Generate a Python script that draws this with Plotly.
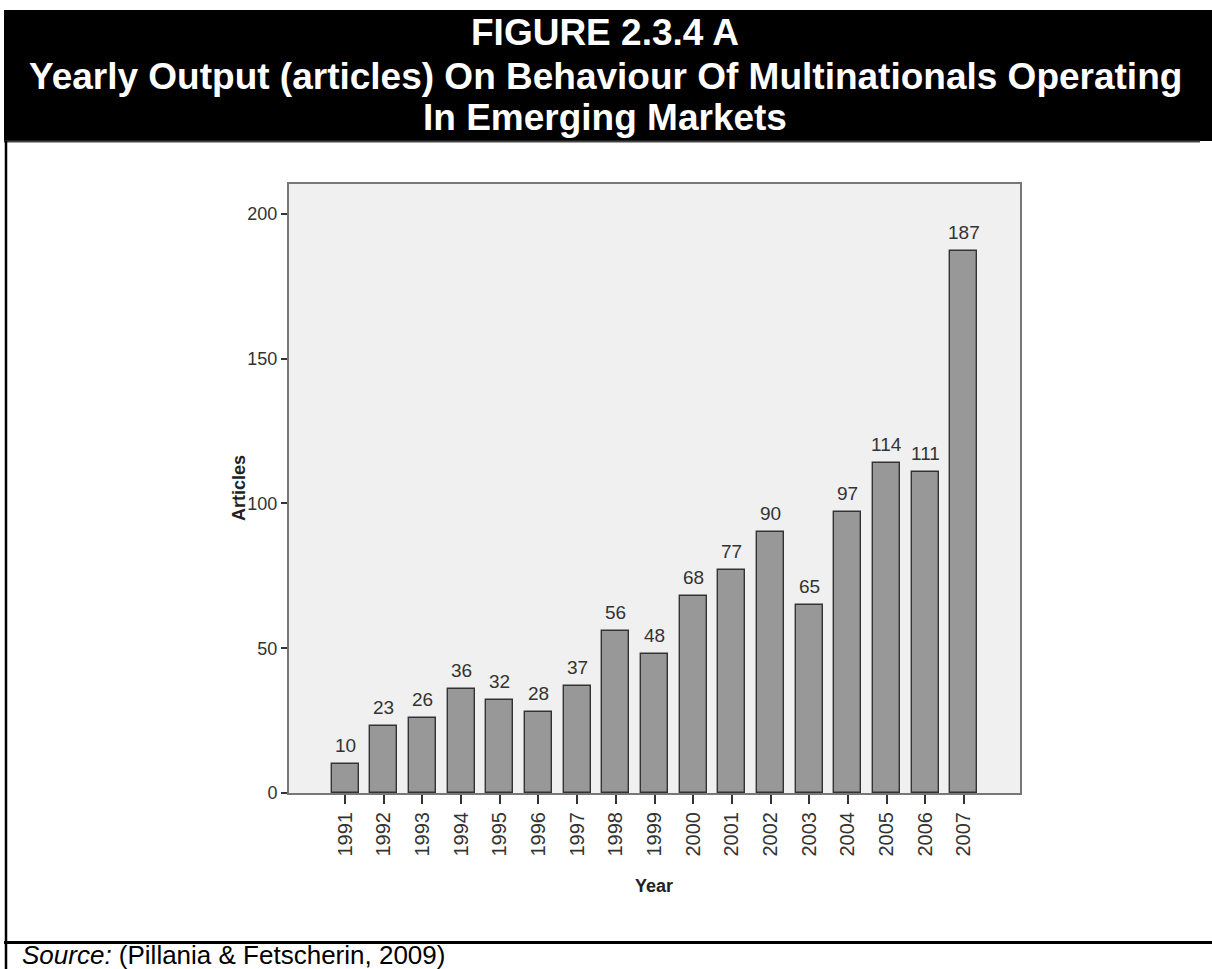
import plotly.graph_objects as go

# Yearly article counts
years = ["1991", "1992", "1993", "1994", "1995", "1996", "1997", "1998", "1999",
         "2000", "2001", "2002", "2003", "2004", "2005", "2006", "2007"]
articles = [10, 23, 26, 36, 32, 28, 37, 56, 48, 68, 77, 90, 65, 97, 114, 111, 187]
y_ticks = [0, 50, 100, 150, 200]

title_lines = [
    "FIGURE 2.3.4 A",
    "Yearly Output (articles) On Behaviour Of Multinationals Operating",
    "In Emerging Markets",
]
source_text = "<i>Source:</i> (Pillania & Fetscherin, 2009)"

W, H = 1212, 969
PL, PR, PT, PB = 289, 1020, 184, 793  # plot area in pixels

SANS = "Liberation Sans, Arial, sans-serif"

# bar slots along the x axis, labelled with the years
slots = list(range(len(years)))


def px_x(px):
    return (px - PL) / (PR - PL)


def px_y(py):
    return (PB - py) / (PB - PT)


fig = go.Figure()
fig.add_trace(go.Bar(
    x=slots, y=articles, width=0.70,
    marker=dict(color="#989898", line=dict(color="#333333", width=1.4)),
    customdata=years, hovertemplate="%{customdata}: %{y}<extra></extra>",
))

# value labels above the bars
for s, v in zip(slots, articles):
    fig.add_annotation(x=s, y=v, text=str(v), showarrow=False,
                       xref="x", yref="y", xanchor="center", yanchor="bottom",
                       yshift=6,
                       font=dict(family=SANS, size=19, color="#333333"))

shapes = []
# black header band
shapes.append(dict(type="rect", xref="paper", yref="paper",
                   x0=px_x(4), x1=px_x(1214), y0=px_y(141), y1=px_y(10),
                   fillcolor="black", line=dict(width=0), layer="above"))
# box frame below the header
shapes.append(dict(type="line", xref="paper", yref="paper",
                   x0=px_x(4), x1=px_x(1200), y0=px_y(141.5), y1=px_y(141.5),
                   line=dict(color="#444444", width=2)))
shapes.append(dict(type="line", xref="paper", yref="paper",
                   x0=px_x(6), x1=px_x(6), y0=px_y(141), y1=px_y(975),
                   line=dict(color="black", width=2.5)))
shapes.append(dict(type="line", xref="paper", yref="paper",
                   x0=px_x(4), x1=px_x(1214), y0=px_y(942.5), y1=px_y(942.5),
                   line=dict(color="black", width=3)))

title_centres = [33, 76, 117]
for line, cy in zip(title_lines, title_centres):
    fig.add_annotation(text="<b>" + line + "</b>", xref="paper", yref="paper",
                       x=px_x(605), y=px_y(cy), xanchor="center", yanchor="middle",
                       showarrow=False,
                       font=dict(family=SANS, size=37, color="white"))
fig.add_annotation(text=source_text, xref="paper", yref="paper",
                   x=px_x(20), y=px_y(955), xanchor="left", yanchor="middle",
                   showarrow=False,
                   font=dict(family=SANS, size=26, color="black"))
# axis titles
fig.add_annotation(text="<b>Articles</b>", xref="paper", yref="paper",
                   x=px_x(239), y=px_y(488), xanchor="center", yanchor="middle",
                   textangle=-90, showarrow=False,
                   font=dict(family=SANS, size=18, color="#222222"))
fig.add_annotation(text="<b>Year</b>", xref="paper", yref="paper",
                   x=px_x(654), y=px_y(886), xanchor="center", yanchor="middle",
                   showarrow=False,
                   font=dict(family=SANS, size=18, color="#222222"))

fig.update_layout(
    width=W, height=H,
    margin=dict(l=PL, r=W - PR, t=PT, b=H - PB, pad=0),
    paper_bgcolor="white", plot_bgcolor="#f0f0f0",
    showlegend=False, shapes=shapes, bargap=0,
)
fig.update_xaxes(
    range=[-1.45, 17.45], tickvals=slots, ticktext=years,
    showline=True, linecolor="#777777", linewidth=2, mirror=True,
    ticks="outside", ticklen=9, tickwidth=1.5, tickcolor="#333333",
    tickangle=-90, showgrid=False, zeroline=False,
    tickfont=dict(family=SANS, size=20, color="#333333"),
)
fig.update_yaxes(
    range=[0, 210.3], tickvals=y_ticks,
    showline=True, linecolor="#777777", linewidth=2, mirror=True,
    ticks="outside", ticklen=6, tickwidth=2, tickcolor="#333333",
    showgrid=False, zeroline=False, ticklabelstandoff=0,
    tickfont=dict(family=SANS, size=18, color="#333333"),
)

fig.write_html("out.html")
